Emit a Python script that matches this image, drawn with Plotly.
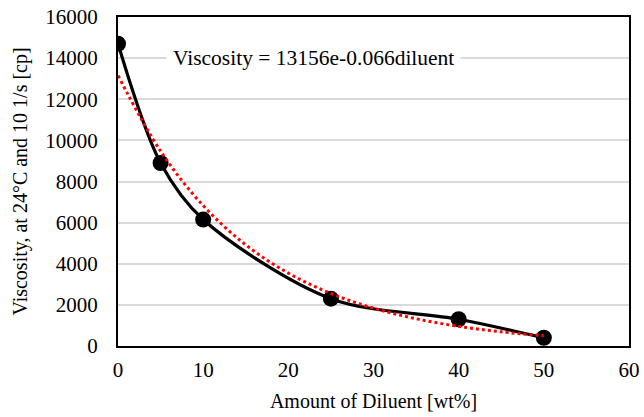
import plotly.graph_objects as go

# Measured data
diluent = [0, 5, 10, 25, 40, 50]
viscosity = [14700, 8900, 6150, 2300, 1300, 400]

# Exponential trendline
trend_x = [0, 5, 10, 15, 20, 25, 30, 35, 40, 45, 50]
trend_y = [13156, 9478, 6828, 4919, 3544, 2553, 1839, 1325, 955, 688, 495]

x_ticks = [0, 10, 20, 30, 40, 50, 60]
y_ticks = [0, 2000, 4000, 6000, 8000, 10000, 12000, 14000, 16000]

equation = "Viscosity = 13156e-0.066diluent"

FONT = "Liberation Serif"
FS = 20

fig = go.Figure()
fig.add_trace(go.Scatter(
    x=diluent, y=viscosity, mode="lines+markers",
    line=dict(color="black", width=3.2, shape="spline", smoothing=0.9),
    marker=dict(color="black", size=16),
    showlegend=False,
))
fig.add_trace(go.Scatter(
    x=trend_x, y=trend_y, mode="lines",
    line=dict(color="#ff0000", width=3, dash="dot", shape="spline", smoothing=1.0),
    showlegend=False,
))

fig.add_annotation(
    x=22.9, y=14000, xref="x", yref="y", text=equation, showarrow=False,
    font=dict(family=FONT, size=21.5, color="black"), bgcolor="white",
    xanchor="center", yanchor="middle", borderpad=6,
)

fig.update_layout(
    width=644, height=417,
    margin=dict(l=118, r=15, t=17, b=71),
    paper_bgcolor="white", plot_bgcolor="white",
    font=dict(family=FONT, size=FS, color="black"),
)
fig.update_xaxes(
    range=[0, 60], tickvals=x_ticks, ticktext=[str(v) for v in x_ticks],
    showgrid=False, zeroline=False, automargin=False,
    showline=True, linecolor="black", linewidth=2, mirror=True,
    ticks="", ticklen=0, ticklabelstandoff=4,
    tickfont=dict(family=FONT, size=21),
    title=dict(text="Amount of Diluent [wt%]", font=dict(family=FONT, size=FS), standoff=13),
)
fig.update_yaxes(
    range=[0, 16000], tickvals=y_ticks, ticktext=[str(v) for v in y_ticks],
    showgrid=True, gridcolor="#d9d9d9", gridwidth=1.5,
    zeroline=False, automargin=False,
    showline=True, linecolor="black", linewidth=2, mirror=True,
    ticks="", ticklen=0, ticklabelstandoff=14,
    tickfont=dict(family=FONT, size=21),
    title=dict(text="Viscosity, at 24°C and 10 1/s [cp]", font=dict(family=FONT, size=FS), standoff=12),
)

fig.write_html("out.html")
